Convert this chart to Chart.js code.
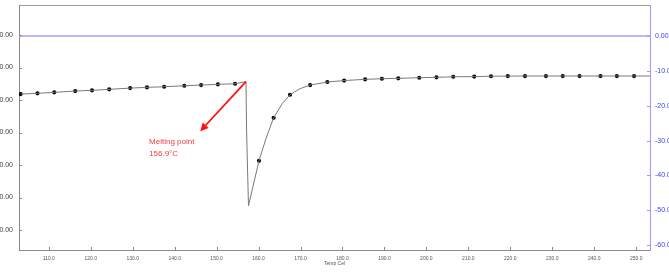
<!DOCTYPE html>
<html>
<head>
<meta charset="utf-8">
<script src="https://cdn.jsdelivr.net/npm/chart.js@4/dist/chart.umd.min.js"></script>
<style>
  html, body { margin: 0; padding: 0; background: #fff; overflow: hidden; }
  #wrap { position: absolute; left: -30px; top: 0; width: 729px; height: 272px; }
</style>
</head>
<body>
<div id="wrap"><canvas id="dsc-chart"></canvas></div>
<script>
// marked points on the DSC curve (temp, heat flow)
const markTemps = [103.3, 107.3, 111.3, 116.3, 120.3, 124.4, 129.4, 133.4, 137.5, 142.3,
  146.3, 150.3, 154.4, 160.1, 163.6, 167.5, 172.3, 176.4, 180.4, 185.4, 189.4, 193.3,
  198.3, 202.4, 206.4, 211.4, 215.4, 219.4, 223.5, 228.5, 232.5, 236.5, 241.5, 245.4, 249.5];
const markFlow = [-16.65, -16.45, -16.16, -15.79, -15.59, -15.30, -14.95, -14.73, -14.56, -14.27,
  -14.07, -13.87, -13.69, -35.8, -23.46, -16.85, -14.07, -13.2, -12.78, -12.43, -12.26, -12.14,
  -11.97, -11.86, -11.69, -11.65, -11.54, -11.5, -11.48, -11.48, -11.48, -11.48, -11.48, -11.48, -11.48];
// unmarked points the line also passes through
const lineTemps = [157.0, 157.15, 157.3, 157.6, 161.8, 165.7, 169.9, 253.3];
const lineFlow = [-13.1, -27.3, -34.65, -48.7, -29.3, -19.3, -15.1, -11.48];

const xTicks = [110, 120, 130, 140, 150, 160, 170, 180, 190, 200, 210, 220, 230, 240, 250];
const leftTicks = [-10, -20, -30, -40, -50, -60, -70];
const rightTicks = [0, -10, -20, -30, -40, -50, -60];
const zeroLine = [0, 0];

const meltTemp = 157.0, meltFlow = -13.1;
const arrowTip = [146.1, -27.3];
const noteAt = [133.9, -30.4];
const noteLines = ["Melting point", "156.9°C"];

const curve = markTemps.map((t, i) => ({ x: t, y: markFlow[i] }))
  .concat(lineTemps.map((t, i) => ({ x: t, y: lineFlow[i] })))
  .sort((a, b) => a.x - b.x);

const X_MIN = 102.9, X_MAX = 253.3;

const overlay = {
  id: "overlay",
  afterDraw(chart) {
    const ctx = chart.ctx;
    const x = chart.scales.x, yl = chart.scales.yL, yr = chart.scales.yR;
    ctx.save();
    ctx.lineWidth = 1;
    ctx.strokeStyle = "#888";
    ctx.beginPath();
    xTicks.forEach(v => {
      const px = Math.round(x.getPixelForValue(v)) + 0.5;
      ctx.moveTo(px, x.top); ctx.lineTo(px, x.top - 3);
    });
    leftTicks.forEach(v => {
      const py = Math.round(yl.getPixelForValue(v)) + 0.5;
      ctx.moveTo(yl.right, py); ctx.lineTo(yl.right + 3, py);
    });
    ctx.stroke();
    ctx.strokeStyle = "#9a9aff";
    ctx.beginPath();
    rightTicks.forEach(v => {
      const py = Math.round(yr.getPixelForValue(v)) + 0.5;
      ctx.moveTo(yr.left, py); ctx.lineTo(yr.left - 3, py);
    });
    ctx.stroke();

    // arrow
    const x0 = x.getPixelForValue(meltTemp), y0 = yr.getPixelForValue(meltFlow);
    const x1 = x.getPixelForValue(arrowTip[0]), y1 = yr.getPixelForValue(arrowTip[1]);
    const ang = Math.atan2(y1 - y0, x1 - x0);
    ctx.strokeStyle = "#ff1010";
    ctx.fillStyle = "#ff1010";
    ctx.lineWidth = 1.8;
    ctx.beginPath();
    ctx.moveTo(x0, y0);
    ctx.lineTo(x1 - 5 * Math.cos(ang), y1 - 5 * Math.sin(ang));
    ctx.stroke();
    ctx.beginPath();
    ctx.moveTo(x1, y1);
    ctx.lineTo(x1 - 8 * Math.cos(ang) + 4 * Math.sin(ang), y1 - 8 * Math.sin(ang) - 4 * Math.cos(ang));
    ctx.lineTo(x1 - 8 * Math.cos(ang) - 4 * Math.sin(ang), y1 - 8 * Math.sin(ang) + 4 * Math.cos(ang));
    ctx.closePath();
    ctx.fill();

    ctx.fillStyle = "#f03c3c";
    ctx.font = "8px 'Liberation Sans', Arial, sans-serif";
    ctx.textAlign = "left";
    ctx.textBaseline = "middle";
    const tx = x.getPixelForValue(noteAt[0]), ty = yr.getPixelForValue(noteAt[1]);
    noteLines.forEach((s, i) => ctx.fillText(s, tx, ty + i * 12));
    ctx.restore();
  }
};

const tickFont = { family: "'Liberation Sans', Arial, sans-serif", size: 7 };
const noPad = s => { s.paddingTop = 0; s.paddingBottom = 0; };

new Chart(document.getElementById("dsc-chart"), {
  type: "scatter",
  data: {
    datasets: [
      {
        data: [{ x: X_MIN, y: zeroLine[0] }, { x: X_MAX, y: zeroLine[1] }],
        yAxisID: "yR",
        showLine: true,
        borderColor: "#a0a0ff",
        borderWidth: 1.3,
        pointRadius: 0,
      },
      {
        data: curve,
        yAxisID: "yR",
        showLine: true,
        borderColor: "#7a7a7a",
        borderWidth: 1,
        pointRadius: 0,
        tension: 0,
      },
      {
        data: markTemps.map((t, i) => ({ x: t, y: markFlow[i] })),
        yAxisID: "yR",
        showLine: false,
        pointRadius: 2.1,
        pointBackgroundColor: "#000",
        pointBorderColor: "#000",
        pointBorderWidth: 0,
      },
    ],
  },
  options: {
    responsive: true,
    maintainAspectRatio: false,
    animation: false,
    layout: { padding: 0 },
    plugins: { legend: { display: false }, tooltip: { enabled: false } },
    scales: {
      x: {
        type: "linear",
        position: "bottom",
        min: X_MIN,
        max: X_MAX,
        afterBuildTicks: s => { s.ticks = xTicks.map(v => ({ value: v })); },
        afterFit: s => { s.height = 22; s.paddingLeft = 0; s.paddingRight = 0; },
        grid: { display: false, drawTicks: false },
        border: { color: "#8a8a8a", width: 1 },
        ticks: { font: { ...tickFont, size: 5 }, color: "#555", padding: 6, maxRotation: 0,
          callback: v => v.toFixed(1) },
        title: { display: true, text: "Temp Cel", font: { ...tickFont, size: 5 }, color: "#555",
          padding: { top: 0, bottom: 5 } },
      },
      x2: {
        type: "linear",
        position: "top",
        min: X_MIN,
        max: X_MAX,
        afterFit: s => { s.height = 5; s.paddingLeft = 0; s.paddingRight = 0; },
        grid: { display: false, drawTicks: false },
        border: { color: "#9a9a9a", width: 1 },
        ticks: { display: false },
      },
      yL: {
        type: "linear",
        position: "left",
        min: -76.15,
        max: -0.77,
        afterBuildTicks: s => { s.ticks = leftTicks.map(v => ({ value: v })); },
        afterFit: s => { s.width = 49; noPad(s); },
        grid: { display: false, drawTicks: false },
        border: { color: "#8a8a8a", width: 1 },
        ticks: { font: tickFont, color: "#444", padding: 6, callback: v => v.toFixed(2) },
      },
      yR: {
        type: "linear",
        position: "right",
        min: -61.4,
        max: 8.9,
        afterBuildTicks: s => { s.ticks = rightTicks.map(v => ({ value: v })); },
        afterFit: s => { s.width = 49; noPad(s); },
        grid: { display: false, drawTicks: false },
        border: { color: "#9a9aff", width: 1 },
        ticks: { font: tickFont, color: "#3c3cff", padding: 5, callback: v => v.toFixed(2) },
      },
    },
  },
  plugins: [overlay],
});
</script>
</body>
</html>
